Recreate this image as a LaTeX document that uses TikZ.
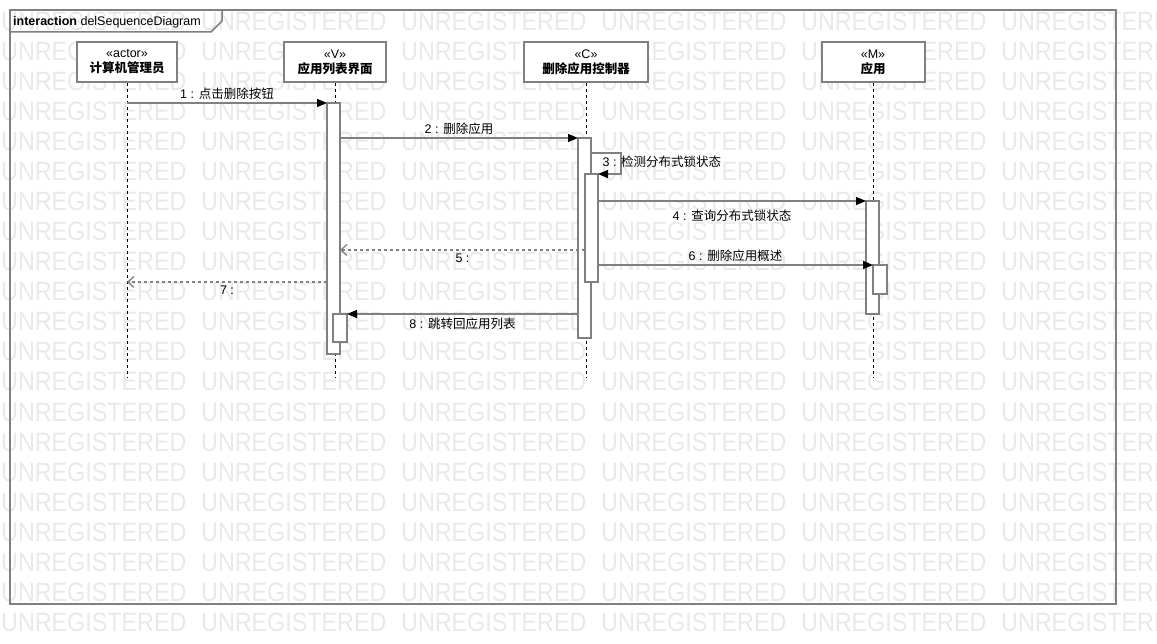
\documentclass[tikz,border=0pt]{standalone}
\usepackage{fontspec}
\setmainfont{Liberation Sans}
\newfontfamily\cjk{Noto Sans CJK SC}
\usepackage{tikz}
\usetikzlibrary{arrows.meta, calc}
\definecolor{umlgray}{HTML}{808080}
\definecolor{wmgray}{HTML}{E9E9E9}

\begin{document}
\begin{tikzpicture}[x=1pt, y=-1pt, every node/.style={font=\fontsize{12.5}{15}\selectfont}]
    \tikzstyle{lifebox} = [rectangle, draw=umlgray, line width=2pt, fill=white, minimum height=40pt, align=center, inner sep=2pt]
    \tikzstyle{activation} = [rectangle, draw=umlgray, line width=1.5pt, fill=white, minimum width=13pt, inner sep=0pt, outer sep=0pt]
    \tikzstyle{lifeline} = [black, line width=0.8pt, dash pattern=on 3pt off 3pt]
    \tikzstyle{frame} = [umlgray, line width=1.5pt]
    \tikzstyle{msg} = [umlgray, line width=1.3pt, -{Triangle[length=10pt, width=8pt, color=black, fill=black]}]
    \tikzstyle{reply} = [umlgray, line width=1.3pt, dash pattern=on 3pt off 3pt, -{Straight Barb[length=6pt, width=11pt]}]
    \tikzstyle{lbl} = [text=black, inner sep=3pt]
    \tikzstyle{watermark} = [text=wmgray, anchor=base west, inner sep=0pt, xscale=0.88, font=\fontsize{26.5}{30}\selectfont]
    \useasboundingbox (0,0) rectangle (1157,644);
    % Watermark
    \begin{scope}
    \clip (0,0) rectangle (1157,644);
    \foreach \r in {0,...,20}
      \foreach \c in {0,...,5}
        \node [watermark] at (\c*200+1, 31+\r*30) {UNREGISTERED};
    \end{scope}
    % Frame
    \draw [frame] (10,10) rectangle (1116,604);
    \draw [frame] (10,32) -- (211,32) -- (222,21) -- (222,10);
    \node (title) [anchor=base west, inner sep=0pt] at (13,26) {\textbf{interaction} delSequenceDiagram};
    % Nodes
    \node (actor) [lifebox, minimum width=100pt] at (127,62) {«actor»\\{\cjk\bfseries 计算机管理员}};
    \node (view) [lifebox, minimum width=102pt] at (335,62) {«V»\\{\cjk\bfseries 应用列表界面}};
    \node (ctrl) [lifebox, minimum width=124pt] at (586,62) {«C»\\{\cjk\bfseries 删除应用控制器}};
    \node (model) [lifebox, minimum width=103pt] at (873,62) {«M»\\{\cjk\bfseries 应用}};
    \coordinate (bottom) at (0,378);
    \draw [lifeline] (actor.south) -- (actor.south |- bottom);
    \draw [lifeline] (view.south) -- (view.south |- bottom);
    \draw [lifeline] (ctrl.south) -- (ctrl.south |- bottom);
    \draw [lifeline] (model.south) -- (model.south |- bottom);
    \node (vact) [activation, minimum height=251pt] at (333.5,228.5) {};
    \node (vact2) [activation, minimum width=14pt, minimum height=28pt] at (340,328) {};
    \node (cact) [activation, minimum height=200pt] at (584.5,238) {};
    \node (cact2) [activation, minimum height=108pt] at (591.5,228) {};
    \node (mact) [activation, minimum height=113pt] at (872.5,257.5) {};
    \node (mact2) [activation, minimum width=14pt, minimum height=29pt] at (880,279.5) {};
    % Arrows
    \draw [msg] (actor.south |- vact.north west) -- (vact.north west) node[lbl, midway, above] {1 : {\cjk 点击删除按钮}};
    \draw [msg] (vact.east |- cact.north west) -- (cact.north west) node[lbl, midway, above] {2 : {\cjk 删除应用}};
    \draw [msg] ($(cact.north east)+(0,15)$) node[lbl, anchor=west, xshift=8pt, yshift=-9pt] {3 : {\cjk 检测分布式锁状态}} -- ++(30,0) |- (cact2.north east);
    \draw [msg] (cact2.east |- mact.north west) -- (mact.north west) node[lbl, midway, below, yshift=-5pt] {4 : {\cjk 查询分布式锁状态}};
    \draw [reply] (cact2.west |- 0,250) -- (vact.east |- 0,250) node[lbl, midway, below] {5 :};
    \draw [msg] (cact2.east |- mact2.north west) -- (mact2.north west) node[lbl, midway, above] {6 : {\cjk 删除应用概述}};
    \draw [reply] (vact.west |- 0,282) -- (actor.south |- 0,282) node[lbl, midway, below] {7 :};
    \draw [msg] (cact.west |- vact2.north east) -- (vact2.north east) node[lbl, midway, below] {8 : {\cjk 跳转回应用列表}};
\end{tikzpicture}
\end{document}
